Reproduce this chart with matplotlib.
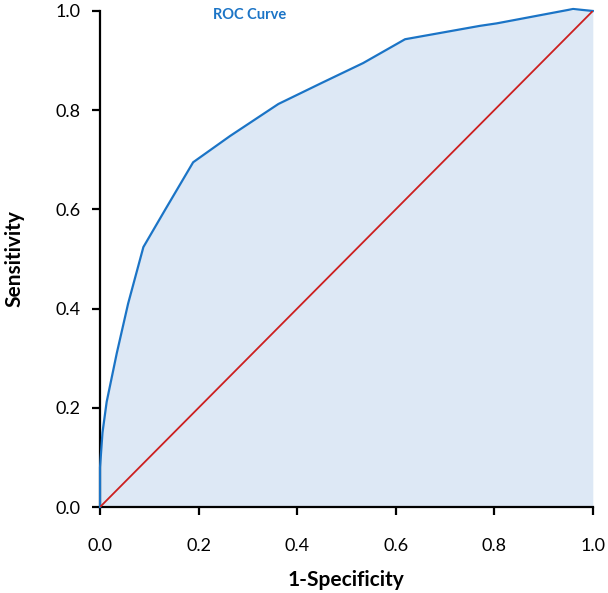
import numpy as np
import matplotlib
matplotlib.use("Agg")
import matplotlib.pyplot as plt

plt.rcParams['font.family'] = ['Lato', 'DejaVu Sans']

# ROC curve points
fpr = [0.0, 0.0, 0.005, 0.0135, 0.034, 0.057, 0.088, 0.132, 0.189, 0.264,
       0.362, 0.45, 0.534, 0.619, 0.771, 0.805, 0.96, 1.0]
tpr = [0.0, 0.08, 0.15, 0.212, 0.31, 0.41, 0.524, 0.599, 0.695, 0.748,
       0.8125, 0.855, 0.895, 0.943, 0.970, 0.975, 1.004, 1.0]
ref = [0.0, 1.0]

line_blue = "#1b74c6"
fill_blue = "#dde8f5"
red = "#cc1f1f"

fig = plt.figure(figsize=(6.08, 5.93), dpi=100)
ax = fig.add_axes([0.1645, 0.145, 0.8105, 0.8365])

ax.fill_between(fpr, tpr, 0, color=fill_blue, linewidth=0)
ax.plot(fpr, tpr, color=line_blue, linewidth=1.6, clip_on=False, zorder=3)
ax.plot(ref, ref, color=red, linewidth=1.3, zorder=3)

ax.set_xlim(0, 1)
ax.set_ylim(0, 1)
ticks = [0.0, 0.2, 0.4, 0.6, 0.8, 1.0]
ax.set_xticks(ticks)
ax.set_yticks(ticks)
ax.set_xticklabels(["%.1f" % t for t in ticks])
ax.set_yticklabels(["%.1f" % t for t in ticks])

for side in ["top", "right"]:
    ax.spines[side].set_visible(False)
for side in ["left", "bottom"]:
    ax.spines[side].set_linewidth(1.6)
ax.tick_params(direction="out", length=6, width=1.6, labelsize=13)
ax.tick_params(axis="x", pad=16)
ax.tick_params(axis="y", pad=8)

ax.set_xlabel("1-Specificity", fontsize=15, fontweight="bold", labelpad=12)
ax.set_ylabel("Sensitivity", fontsize=15, fontweight="bold", labelpad=22)

ax.text(0.304, 0.992, "ROC Curve", color=line_blue, fontsize=10.5,
        fontweight="bold", ha="center", va="center")

plt.savefig("out.png", dpi=100)
